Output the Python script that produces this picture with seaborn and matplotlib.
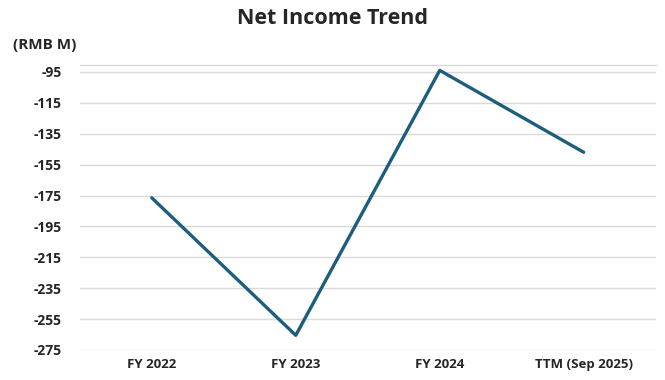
import pandas as pd
import matplotlib
matplotlib.use('Agg')
import matplotlib.pyplot as plt
import seaborn as sns

periods = ['FY 2022', 'FY 2023', 'FY 2024', 'TTM (Sep 2025)']
net_income = [-176.5, -265.5, -94.0, -147.0]
yticks = [-95, -115, -135, -155, -175, -195, -215, -235, -255, -275]

linecolor = '#1d5e7e'
gridcolor = '#d9d9d9'

sns.set_style('white')
plt.rcParams['font.family'] = ['Open Sans', 'DejaVu Sans']

df = pd.DataFrame({'period': periods, 'value': net_income})
df['x'] = range(len(df))

fig = plt.figure(figsize=(6.65, 3.8), dpi=100)
ax = fig.add_axes([0.120, 0.079, 0.866, 0.750])

sns.lineplot(data=df, x='x', y='value', ax=ax, color=linecolor, linewidth=2.4, sort=False)

ax.set_xlim(-0.5, 3.5)
ax.set_ylim(-275, -90.5)
ax.set_yticks(yticks)
ax.set_yticklabels([str(v) for v in yticks], fontweight='bold', fontsize=10)
ax.set_xticks(df['x'])
ax.set_xticklabels(periods, fontweight='bold', fontsize=9.5)
ax.yaxis.grid(True, color=gridcolor, linewidth=1)
ax.set_axisbelow(True)
ax.tick_params(axis='both', length=0, pad=6)
ax.tick_params(axis='y', pad=13)
for s in ['left', 'right', 'bottom']:
    ax.spines[s].set_visible(False)
ax.spines['top'].set_color(gridcolor)
ax.spines['top'].set_linewidth(1)
ax.set_xlabel('')
ax.set_ylabel('')

fig.text(0.5, 0.952, 'Net Income Trend', ha='center', va='center', fontsize=15.5, fontweight='bold')
fig.text(0.020, 0.882, '(RMB M)', ha='left', va='center', fontsize=11, fontweight='bold')

fig.savefig('out.png', dpi=100)
